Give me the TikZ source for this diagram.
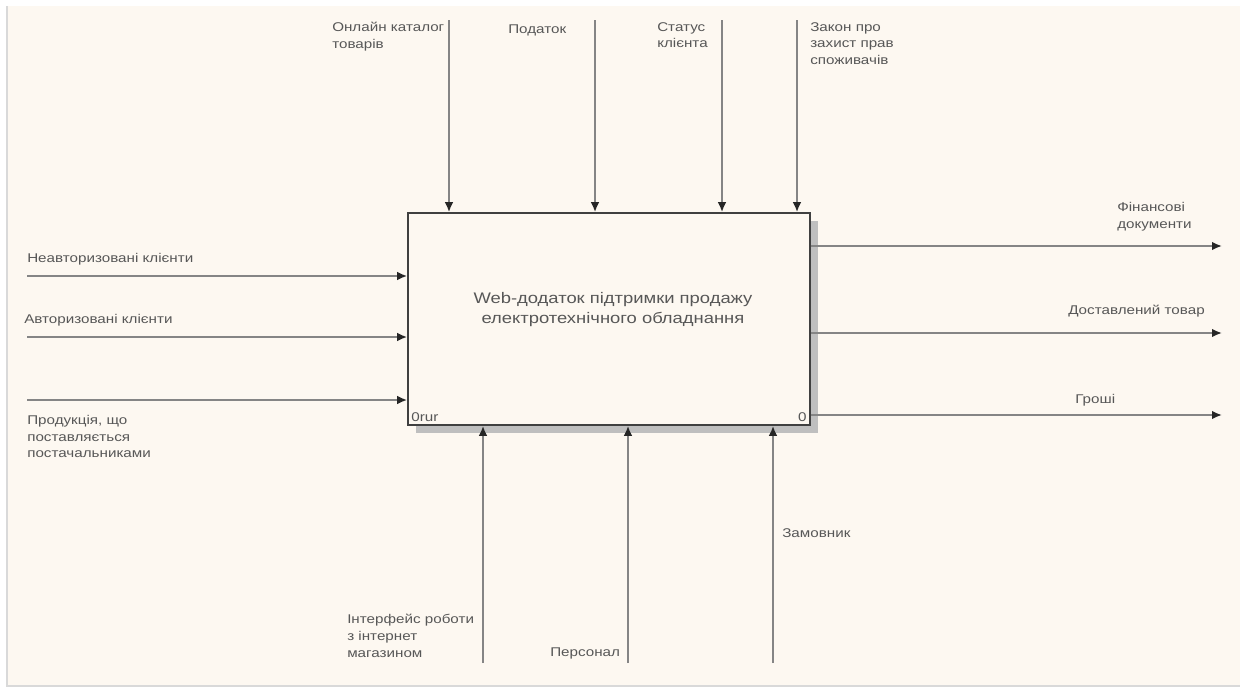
\documentclass[tikz,border=0pt]{standalone}
\usepackage{fontspec}
\setmainfont[FakeStretch=1.2]{Liberation Sans}
\usetikzlibrary{arrows.meta,shadows}
\definecolor{paper}{HTML}{FDF8F1}
\definecolor{ink}{HTML}{575757}
\definecolor{wire}{HTML}{858585}
\tikzset{
  >={Latex[length=7.5pt,width=6.5pt,color=black!85]},
  lb/.style={inner sep=0pt,align=left,text=ink,font=\fontsize{9.5}{12.5}\selectfont},
  blk/.style={draw=black!75,fill=paper,line width=1.3pt,minimum width=301.5pt,minimum height=159pt,
    drop shadow={shadow xshift=6pt,shadow yshift=-6pt,fill=black!25,opacity=1}},
  ar/.style={draw=wire,line width=1.4pt,->},
}
\begin{document}
\begin{tikzpicture}[x=0.75pt,y=-0.75pt]
\useasboundingbox (0,0) rectangle (1240,689);
\fill[white] (0,0) rectangle (1240,689);
\fill[paper] (7,6) rectangle (1240,686);
\draw[black!15,line width=1.5pt] (7,6) -- (7,686) -- (1240,686);
\node[blk] (box) at (609,319){};
\node[lb,align=center,font=\fontsize{11.5}{15}\selectfont] (title) at (613,310){Web-додаток підтримки продажу\\електротехнічного обладнання};
\node[lb,anchor=south west] (cost) at ([shift={(4,-4)}]box.south west){0rur};
\node[lb,anchor=south east] (num) at ([shift={(-4,-4)}]box.south east){0};
\coordinate (c1) at (449,20); \coordinate (c2) at (595,20); \coordinate (c3) at (722,20); \coordinate (c4) at (797,20);
\coordinate (i1) at (27,276); \coordinate (i2) at (27,337); \coordinate (i3) at (27,400);
\coordinate (o1) at (1222,246); \coordinate (o2) at (1222,333); \coordinate (o3) at (1222,415);
\coordinate (m1) at (483,663); \coordinate (m2) at (628,663); \coordinate (m3) at (773,663);
\draw[ar] (c1)--(c1|-box.north); \draw[ar] (c2)--(c2|-box.north); \draw[ar] (c3)--(c3|-box.north); \draw[ar] (c4)--(c4|-box.north);
\draw[ar] (i1)--(i1-|box.west); \draw[ar] (i2)--(i2-|box.west); \draw[ar] (i3)--(i3-|box.west);
\draw[ar] (o1-|box.east)--(o1); \draw[ar] (o2-|box.east)--(o2); \draw[ar] (o3-|box.east)--(o3);
\draw[ar] (m1)--(m1|-box.south); \draw[ar] (m2)--(m2|-box.south); \draw[ar] (m3)--(m3|-box.south);
\node[lb,anchor=north west] (tc1) at (332,22){Онлайн каталог\\товарів};
\node[lb,anchor=north west] (tc2) at (508,25){Податок};
\node[lb,anchor=north west] (tc3) at (657,22){Статус\\клієнта};
\node[lb,anchor=north west] (tc4) at (810,22){Закон про\\захист прав\\споживачів};
\node[lb,anchor=north west] (ti1) at (27,253){Неавторизовані клієнти};
\node[lb,anchor=north west] (ti2) at (24,314){Авторизовані клієнти};
\node[lb,anchor=north west] (ti3) at (27,415){Продукція, що\\поставляється\\постачальниками};
\node[lb,anchor=north west] (to1) at (1117,202){Фінансові\\документи};
\node[lb,anchor=north west] (to2) at (1068,305){Доставлений товар};
\node[lb,anchor=north west] (to3) at (1075,394){Гроші};
\node[lb,anchor=north west] (tm1) at (347,614){Інтерфейс роботи\\з інтернет\\магазином};
\node[lb,anchor=north west] (tm2) at (550,648){Персонал};
\node[lb,anchor=north west] (tm3) at (782,528){Замовник};
\end{tikzpicture}
\end{document}
